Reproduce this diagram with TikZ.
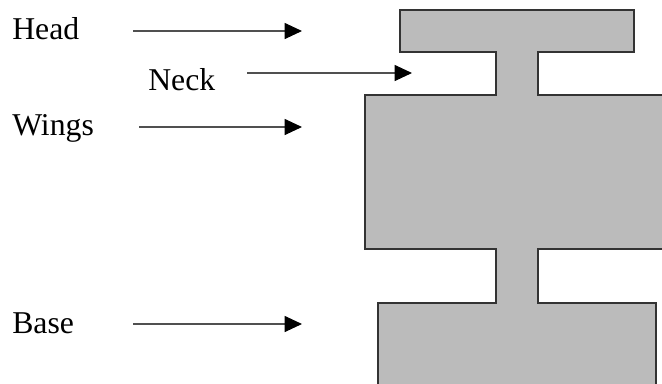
\documentclass[tikz,border=0pt]{standalone}
\usepackage{fontspec}
\setmainfont{Liberation Serif}
\usetikzlibrary{arrows.meta}
\definecolor{partgray}{HTML}{BBBBBB}
\definecolor{linegray}{HTML}{505050}
\tikzset{
  partlabel/.style={anchor=base west, inner sep=0pt, font=\fontsize{23.8pt}{28pt}\selectfont},
  pointer/.style={draw=linegray, line width=0.8pt,
    -{Triangle[length=13pt, width=12pt, fill=black, color=black]}},
  body/.style={fill=partgray, draw=black!80, line width=0.9pt}
}
\begin{document}
\begin{tikzpicture}[x=0.75pt, y=-0.75pt]
  \clip (0,0) rectangle (662,383);
  \path[use as bounding box] (0,0) rectangle (662,383);

  % the part outline: head, neck, wings, neck, base
  \draw[body] (400,10) -- (634,10) -- (634,52) -- (538,52) -- (538,95)
    -- (672,95) -- (672,249) -- (538,249) -- (538,303) -- (656,303)
    -- (656,392) -- (378,392) -- (378,303) -- (496,303) -- (496,249)
    -- (365,249) -- (365,95) -- (496,95) -- (496,52) -- (400,52) -- cycle;

  % labels
  \node[partlabel] (head)  at (12,39)  {Head};
  \node[partlabel] (neck)  at (148,90) {Neck};
  \node[partlabel] (wings) at (12,135) {Wings};
  \node[partlabel] (base)  at (12,333) {Base};

  % pointer ends
  \coordinate (headS)  at (133,31);  \coordinate (headT)  at (302,31);
  \coordinate (neckS)  at (247,73);  \coordinate (neckT)  at (412,73);
  \coordinate (wingsS) at (139,127); \coordinate (wingsT) at (302,127);
  \coordinate (baseS)  at (133,324); \coordinate (baseT)  at (302,324);

  \draw[pointer] (headS)  -- (headT);
  \draw[pointer] (neckS)  -- (neckT);
  \draw[pointer] (wingsS) -- (wingsT);
  \draw[pointer] (baseS)  -- (baseT);
\end{tikzpicture}
\end{document}
